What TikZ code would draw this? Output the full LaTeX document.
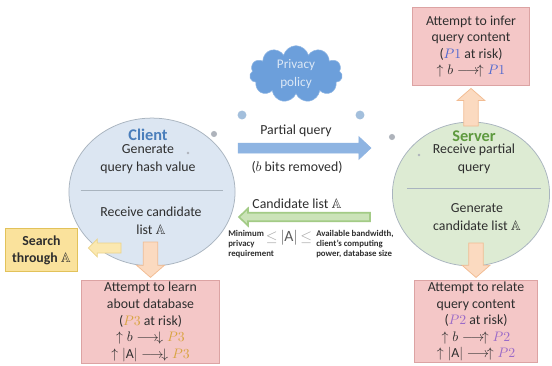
\documentclass[tikz,border=0pt]{standalone}
\usepackage{amsmath,amssymb}
\usepackage{fontspec}
\setmainfont{Carlito}
\usepackage{xcolor}
\usetikzlibrary{shapes.geometric,shapes.symbols,calc}
\definecolor{Ink}{HTML}{2E2E2E}
\definecolor{ClientFill}{HTML}{DCE6F2}
\definecolor{ServerFill}{HTML}{DDEBD3}
\definecolor{RimGray}{HTML}{A9B4BF}
\definecolor{ClientBlue}{HTML}{4A7EBB}
\definecolor{ServerGreen}{HTML}{5E9A3F}
\definecolor{RiskFill}{HTML}{F4C7C7}
\definecolor{RiskLine}{HTML}{DCA3A3}
\definecolor{SearchFill}{HTML}{FAE29C}
\definecolor{SearchLine}{HTML}{E2C25A}
\definecolor{Peach}{HTML}{FBDAC0}
\definecolor{PeachLine}{HTML}{F2BC92}
\definecolor{QueryBlue}{HTML}{8EB4E2}
\definecolor{ListGreen}{HTML}{CBE3B8}
\definecolor{ListLine}{HTML}{A3CB86}
\definecolor{CloudBlue}{HTML}{6C9FDB}
\definecolor{CloudText}{HTML}{DCE8F6}
\definecolor{BubbleBlue}{HTML}{A3BFDC}
\definecolor{BubbleGray}{HTML}{AEB3BB}
\definecolor{PaleGray}{HTML}{A6A6A6}
\definecolor{MidGray}{HTML}{5A5A5A}
\definecolor{PoneBlue}{HTML}{5068D0}
\definecolor{PtwoPurple}{HTML}{9B6BC8}
\definecolor{PthreeGold}{HTML}{D9A441}
% block arrow: [style]{tail}{tip}{half shaft}{half head}{head length}
\newcommand{\fatlink}[6][]{\coordinate (fathead) at ($(#3)!#6!(#2)$);
\draw[#1] ($(#2)!#4!90:(#3)$) -- ($(fathead)!#4!90:(#3)$) -- ($(fathead)!#5!90:(#3)$) -- (#3) -- ($(fathead)!#5!-90:(#3)$) -- ($(fathead)!#4!-90:(#3)$) -- ($(#2)!#4!-90:(#3)$) -- cycle;}

\begin{document}
\begin{tikzpicture}[x=0.028cm,y=-0.028cm,every node/.style={font=\fontsize{11}{14}\selectfont,text=Ink},party/.style={ellipse,draw=RimGray,line width=0.6pt,inner sep=0pt},partyname/.style={font=\fontsize{13}{15}\selectfont\bfseries},riskbox/.style={draw=RiskLine,fill=RiskFill,line width=0.8pt,align=center,inner sep=0pt,font=\fontsize{11}{13.2}\selectfont},peacharrow/.style={draw=PeachLine,fill=Peach,line width=0.6pt,line join=miter},bubble/.style={circle,inner sep=0pt},smallprint/.style={anchor=west,align=left,inner sep=0pt,font=\fontsize{7}{7.8}\selectfont\bfseries}]
\fill[white] (0,0) rectangle (552,365);
\useasboundingbox (0,0) rectangle (552,365);
\node[party,fill=ClientFill,minimum width=4.65cm,minimum height=4.14cm] (client) at (152,192) {};
\node[party,fill=ServerFill,minimum width=4.40cm,minimum height=4.03cm] (server) at (471,194) {};
\draw[RimGray,line width=0.5pt] ([xshift=0.34cm,yshift=0.06cm]client.west) -- ([xshift=-0.36cm,yshift=0.06cm]client.east);
\draw[RimGray,line width=0.5pt] ([xshift=0.42cm,yshift=0.17cm]server.west) -- ([xshift=-0.25cm,yshift=0.17cm]server.east);
\node[partyname,text=ClientBlue] (clientname) at (148,135) {Client};
\node[align=center] (hashgen) at (148,159) {Generate\\query hash value};
\node[align=center] (listrecv) at (151,221) {Receive candidate\\list $\mathbb{A}$};
\node[partyname,text=ServerGreen] (servername) at (474,136) {Server};
\node[align=center] (queryrecv) at (474,159) {Receive partial\\query};
\node[align=center] (listgen) at (477,217) {Generate\\candidate list $\mathbb{A}$};
\node[cloud,cloud puffs=11,aspect=2,inner sep=0pt,fill=CloudBlue,draw=CloudBlue!75!white,minimum width=2.6cm,minimum height=1.1cm,align=center,text=CloudText,font=\fontsize{10.5}{14}\selectfont] (policy) at (296,74) {Privacy\\policy};
\node[bubble,fill=BubbleBlue,minimum size=0.25cm] (lbubA) at (242,115) {};
\node[bubble,fill=BubbleGray,minimum size=0.17cm] (lbubB) at (214,134) {};
\node[bubble,fill=BubbleGray,minimum size=0.08cm] (lbubC) at (188,153) {};
\node[bubble,fill=BubbleBlue,minimum size=0.25cm] (rbubA) at (360,115) {};
\node[bubble,fill=BubbleGray,minimum size=0.17cm] (rbubB) at (392,137) {};
\node[bubble,fill=BubbleGray,minimum size=0.08cm] (rbubC) at (419,155) {};
\node (pqlabel) at (296,131) {Partial query};
\coordinate (pqtail) at (238,148);
\coordinate (pqtip) at (371,148);
\fatlink[fill=QueryBlue,draw=QueryBlue,line width=0.4pt]{pqtail}{pqtip}{0.14cm}{0.32cm}{0.34cm}
\node (pqnote) at (297,167) {($b$ bits removed)};
\node (cllabel) at (297,204) {Candidate list $\mathbb{A}$};
\coordinate (cltail) at (370,217);
\coordinate (cltip) at (239,217);
\fatlink[fill=ListGreen,draw=ListLine,line width=1.3pt]{cltail}{cltip}{0.12cm}{0.24cm}{0.25cm}
\node[smallprint] (minreq) at (228,244) {Minimum\\privacy\\requirement};
\node[inner sep=0pt,font=\fontsize{12.5}{14}\selectfont,text=MidGray] (bound) at (289,238) {\textcolor{PaleGray}{$\le$}\,$|\mathrm{A}|$\,\textcolor{PaleGray}{$\le$}};
\node[smallprint] (avail) at (316,244) {Available bandwidth,\\client's computing\\power, database size};
\node[draw=SearchLine,fill=SearchFill,line width=0.8pt,minimum width=2.04cm,minimum height=1.23cm,align=center,inner sep=0pt,font=\fontsize{11}{13.5}\selectfont\bfseries] (search) at (41.5,250) {Search\\through $\mathbb{A}$};
\coordinate (srtail) at (121,248);
\coordinate (srtip) at ([xshift=0.28cm]search.east|-srtail);
\fatlink[draw=SearchLine!70!white,fill=SearchFill!80!white,line width=0.6pt]{srtail}{srtip}{0.14cm}{0.25cm}{0.25cm}
\node[riskbox,minimum width=3.30cm,minimum height=2.16cm] (infer) at (471,46.5) {Attempt to infer\\query content\\(\textcolor{PoneBlue}{$P1$} at risk)\\$\uparrow b\longrightarrow\!\uparrow\textcolor{PoneBlue}{P1}$};
\node[riskbox,minimum width=3.84cm,minimum height=2.35cm] (learn) at (150.5,322) {Attempt to learn\\about database\\(\textcolor{PthreeGold}{$P3$} at risk)\\$\uparrow b\longrightarrow\!\downarrow\textcolor{PthreeGold}{P3}$\\$\uparrow|\mathrm{A}|\longrightarrow\!\downarrow\textcolor{PthreeGold}{P3}$};
\node[riskbox,minimum width=3.44cm,minimum height=2.32cm] (relate) at (476,321.5) {Attempt to relate\\query content\\(\textcolor{PtwoPurple}{$P2$} at risk)\\$\uparrow b\longrightarrow\!\uparrow\textcolor{PtwoPurple}{P2}$\\$\uparrow|\mathrm{A}|\longrightarrow\!\uparrow\textcolor{PtwoPurple}{P2}$};
\coordinate (cdown) at (150.5,242);
\coordinate (learntip) at ([yshift=0.06cm]learn.north);
\coordinate (sdown) at (476,243);
\coordinate (relatetip) at ([yshift=0.06cm]relate.north);
\coordinate (sup) at (471,126);
\coordinate (infertip) at ([yshift=-0.08cm]infer.south);
\fatlink[peacharrow]{cdown}{learntip}{0.2cm}{0.39cm}{0.34cm}
\fatlink[peacharrow]{sdown}{relatetip}{0.2cm}{0.39cm}{0.34cm}
\fatlink[peacharrow]{sup}{infertip}{0.2cm}{0.39cm}{0.34cm}
\end{tikzpicture}
\end{document}
